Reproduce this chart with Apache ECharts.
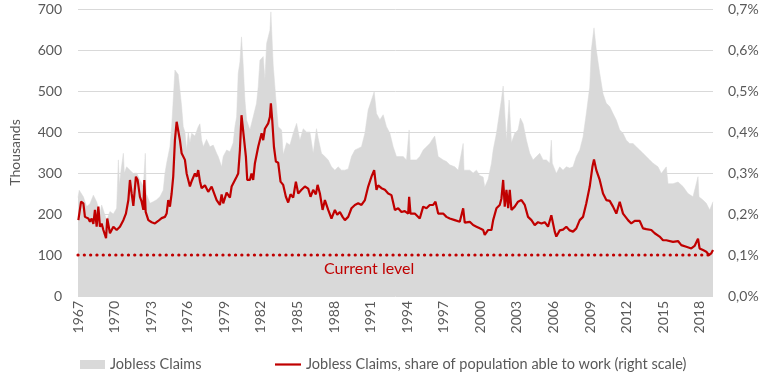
<!DOCTYPE html>
<html>
<head>
<meta charset="utf-8">
<script src="https://cdn.jsdelivr.net/npm/echarts@6/dist/echarts.min.js"></script>
<style>
html,body{margin:0;padding:0;background:#fff;}
#c{width:765px;height:383px;}
</style>
</head>
<body>
<div id="c"></div>
<script>
// ---- Data ----
const baseYear = 1967;
const tickLabelsStep = 3;
const claimYears = [1967.00,1967.10,1967.44,1967.71,1967.98,1968.26,1968.53,1968.80,1968.94,1969.35,1969.62,1969.90,1970.17,1970.31,1970.40,1970.50,1970.72,1970.80,1970.99,1971.26,1971.54,1971.81,1972.08,1972.36,1972.52,1972.60,1972.90,1973.17,1973.45,1973.72,1973.99,1974.13,1974.27,1974.54,1974.68,1974.81,1974.95,1975.09,1975.22,1975.36,1975.50,1975.63,1975.77,1975.91,1976.04,1976.18,1976.32,1976.59,1976.86,1977.00,1977.14,1977.28,1977.54,1977.82,1978.09,1978.37,1978.50,1978.78,1978.91,1979.19,1979.46,1979.73,1979.87,1980.01,1980.14,1980.28,1980.41,1980.55,1980.69,1980.83,1981.10,1981.37,1981.64,1981.78,1981.92,1982.19,1982.33,1982.47,1982.74,1982.82,1983.01,1983.23,1983.42,1983.70,1983.83,1984.11,1984.38,1984.65,1984.93,1985.20,1985.47,1985.74,1986.02,1986.29,1986.56,1986.70,1986.97,1987.25,1987.52,1987.79,1988.07,1988.34,1988.61,1988.89,1989.16,1989.43,1989.71,1989.98,1990.25,1990.53,1990.80,1991.07,1991.29,1991.48,1991.76,1992.03,1992.30,1992.58,1992.85,1993.12,1993.40,1993.67,1993.94,1994.16,1994.25,1994.76,1995.03,1995.31,1995.58,1995.85,1996.13,1996.26,1996.54,1996.95,1997.22,1997.49,1997.90,1998.18,1998.59,1998.66,1999.13,1999.41,1999.68,1999.95,2000.23,2000.36,2000.64,2000.91,2001.05,2001.32,2001.45,2001.73,2001.87,2002.14,2002.36,2002.55,2002.82,2003.09,2003.28,2003.50,2003.78,2004.05,2004.32,2004.60,2004.87,2005.14,2005.42,2005.69,2005.82,2005.90,2006.23,2006.51,2006.78,2007.05,2007.33,2007.60,2007.87,2008.15,2008.42,2008.69,2008.97,2009.10,2009.32,2009.51,2009.79,2010.06,2010.33,2010.61,2010.88,2011.15,2011.43,2011.70,2011.97,2012.25,2012.52,2012.79,2013.07,2013.34,2013.61,2013.89,2014.16,2014.57,2014.84,2015.25,2015.39,2015.80,2016.21,2016.62,2017.03,2017.44,2017.85,2017.93,2018.26,2018.53,2018.81,2019.08];
const claimValues = [240,258,242,218,225,246,230,201,222,185,206,200,214,332,270,300,348,300,315,307,299,300,283,267,348,250,226,230,235,242,258,299,324,364,413,478,551,555,540,502,462,413,400,356,400,374,397,390,413,420,380,364,382,364,368,348,340,315,340,356,352,374,413,437,543,571,632,563,478,429,405,437,470,510,575,584,527,616,648,693,563,480,413,405,345,374,368,397,421,380,408,400,400,348,408,385,348,340,332,315,307,315,307,307,310,340,356,360,364,397,454,478,498,445,430,442,413,397,364,340,340,340,332,405,332,332,340,356,364,372,385,390,340,332,328,320,315,307,372,307,307,300,307,294,290,266,285,324,356,397,400,480,512,380,478,374,397,405,434,421,380,348,332,340,348,332,332,324,380,324,299,315,307,315,312,315,340,356,388,445,510,600,654,600,543,493,470,462,445,429,405,397,380,372,372,364,356,348,340,332,324,315,299,315,274,274,278,267,250,242,291,242,234,226,210,230];
const shareYears = [1967.03,1967.25,1967.44,1967.57,1967.85,1967.98,1968.12,1968.26,1968.39,1968.53,1968.67,1968.80,1968.94,1969.08,1969.30,1969.40,1969.62,1969.90,1970.17,1970.44,1970.72,1970.93,1971.13,1971.26,1971.40,1971.54,1971.75,1971.89,1972.08,1972.22,1972.36,1972.44,1972.55,1972.77,1973.04,1973.31,1973.58,1973.86,1974.13,1974.27,1974.40,1974.54,1974.68,1974.81,1974.95,1975.09,1975.22,1975.36,1975.50,1975.77,1975.91,1976.18,1976.32,1976.59,1976.73,1976.86,1977.00,1977.14,1977.41,1977.68,1977.96,1978.09,1978.37,1978.64,1978.78,1978.91,1979.19,1979.46,1979.60,1979.73,1980.01,1980.14,1980.28,1980.41,1980.55,1980.77,1980.88,1981.10,1981.23,1981.37,1981.51,1981.78,1982.06,1982.19,1982.33,1982.60,1982.74,1982.82,1982.93,1983.07,1983.23,1983.42,1983.61,1983.83,1984.05,1984.24,1984.43,1984.65,1984.87,1985.06,1985.33,1985.61,1985.88,1986.07,1986.29,1986.51,1986.65,1986.84,1987.06,1987.25,1987.52,1987.79,1988.07,1988.26,1988.48,1988.70,1988.89,1989.16,1989.43,1989.71,1989.98,1990.25,1990.53,1990.80,1991.07,1991.29,1991.48,1991.62,1991.89,1992.17,1992.44,1992.71,1992.99,1993.26,1993.53,1993.80,1994.08,1994.16,1994.27,1994.62,1995.03,1995.31,1995.58,1995.85,1996.13,1996.32,1996.54,1996.95,1997.22,1997.49,1997.90,1998.31,1998.59,1998.72,1999.13,1999.41,1999.68,1999.95,2000.23,2000.36,2000.64,2000.91,2001.05,2001.32,2001.59,2001.73,2001.87,2002.00,2002.14,2002.28,2002.41,2002.55,2002.82,2003.09,2003.37,2003.64,2003.91,2004.19,2004.46,2004.73,2005.01,2005.28,2005.55,2005.82,2006.10,2006.23,2006.51,2006.78,2007.05,2007.33,2007.60,2007.87,2008.15,2008.42,2008.69,2008.97,2009.19,2009.32,2009.51,2009.79,2010.06,2010.33,2010.61,2010.88,2011.15,2011.43,2011.70,2012.11,2012.38,2012.66,2013.07,2013.34,2013.61,2014.02,2014.30,2014.70,2014.98,2015.25,2015.80,2016.21,2016.48,2016.89,2017.30,2017.57,2017.85,2017.98,2018.26,2018.53,2018.75,2018.94,2019.08];
const shareValues = [0.185,0.230,0.226,0.193,0.189,0.181,0.189,0.176,0.210,0.169,0.218,0.169,0.177,0.161,0.141,0.189,0.153,0.169,0.161,0.169,0.185,0.201,0.234,0.283,0.250,0.220,0.291,0.283,0.242,0.230,0.210,0.283,0.205,0.185,0.180,0.177,0.183,0.190,0.193,0.201,0.234,0.218,0.250,0.291,0.380,0.425,0.422,0.380,0.348,0.332,0.299,0.267,0.280,0.299,0.291,0.307,0.280,0.263,0.270,0.254,0.267,0.263,0.234,0.222,0.248,0.226,0.252,0.240,0.267,0.271,0.291,0.299,0.356,0.441,0.437,0.340,0.283,0.283,0.299,0.283,0.324,0.364,0.397,0.380,0.408,0.421,0.437,0.470,0.429,0.364,0.328,0.325,0.279,0.271,0.242,0.228,0.248,0.240,0.279,0.250,0.259,0.267,0.262,0.242,0.259,0.248,0.271,0.250,0.210,0.234,0.210,0.189,0.210,0.198,0.205,0.193,0.185,0.193,0.214,0.222,0.226,0.222,0.234,0.267,0.291,0.307,0.259,0.270,0.263,0.259,0.250,0.246,0.210,0.214,0.205,0.207,0.201,0.242,0.201,0.201,0.189,0.218,0.214,0.222,0.222,0.230,0.201,0.201,0.193,0.189,0.185,0.181,0.214,0.179,0.181,0.173,0.169,0.165,0.161,0.149,0.161,0.161,0.185,0.214,0.222,0.238,0.283,0.218,0.259,0.214,0.259,0.210,0.218,0.230,0.234,0.222,0.193,0.185,0.173,0.180,0.177,0.180,0.169,0.197,0.157,0.145,0.160,0.162,0.169,0.160,0.157,0.165,0.185,0.193,0.226,0.267,0.315,0.333,0.307,0.283,0.250,0.234,0.232,0.218,0.201,0.230,0.201,0.185,0.177,0.183,0.183,0.165,0.163,0.161,0.153,0.145,0.136,0.136,0.132,0.134,0.124,0.120,0.116,0.122,0.140,0.116,0.112,0.108,0.100,0.104,0.112];
const currentLevel = 0.1;
const currentLevelText = 'Current level';
const seriesNames = ['Jobless Claims', 'Jobless Claims, share of population able to work (right scale)'];
const leftAxisName = 'Thousands';

// ---- Build ----
const endYear = claimYears[claimYears.length - 1];
const claimData = claimYears.map((y, i) => [y - baseYear, claimValues[i]]);
const shareData = shareYears.map((y, i) => [y - baseYear, shareValues[i]]);
const levelData = [[0, currentLevel], [endYear - baseYear, currentLevel]];

const FONT = 'Lato';
const TXT = '#595959';
const chart = echarts.init(document.getElementById('c'), null, {renderer: 'canvas'});
chart.setOption({
  animation: false,
  textStyle: {fontFamily: FONT},
  grid: {left: 78, right: 52, top: 9, bottom: 87, containLabel: false},
  xAxis: {
    type: 'value', min: 0, max: endYear - baseYear, interval: tickLabelsStep,
    axisLine: {show: false}, axisTick: {show: false}, splitLine: {show: false},
    axisLabel: {rotate: 90, color: TXT, fontSize: 14, fontFamily: FONT, margin: 5,
      showMaxLabel: false, formatter: v => String(baseYear + v)}
  },
  yAxis: [{
    type: 'value', min: 0, max: 700, interval: 100,
    name: leftAxisName, nameLocation: 'middle', nameGap: 56, nameRotate: 90,
    nameTextStyle: {color: TXT, fontSize: 14, fontFamily: FONT},
    axisLine: {show: false}, axisTick: {show: false},
    axisLabel: {color: TXT, fontSize: 14, fontFamily: FONT, margin: 16},
    splitLine: {lineStyle: {color: '#d9d9d9', width: 1}}
  }, {
    type: 'value', min: 0, max: 0.7, interval: 0.1,
    axisLine: {show: false}, axisTick: {show: false}, splitLine: {show: false},
    axisLabel: {color: TXT, fontSize: 14, fontFamily: FONT, margin: 15,
      formatter: v => v.toFixed(1).replace('.', ',') + '%'}
  }],
  legend: [{
    left: 75, top: 352, itemWidth: 25, itemHeight: 9, itemGap: 10,
    textStyle: {color: TXT, fontSize: 14.5, fontFamily: FONT},
    data: [{name: seriesNames[0], icon: 'rect'}]
  }, {
    left: 270, top: 352, itemWidth: 26, itemHeight: 2.2,
    textStyle: {color: TXT, fontSize: 14.5, fontFamily: FONT},
    data: [{name: seriesNames[1], icon: 'rect'}]
  }],
  series: [{
    name: seriesNames[0], type: 'line', data: claimData, yAxisIndex: 0,
    showSymbol: false, symbol: 'none', color: '#d9d9d9',
    lineStyle: {width: 0.5, color: '#d9d9d9'},
    areaStyle: {color: '#d9d9d9', opacity: 1}, z: 1
  }, {
    name: 'level', type: 'line', data: levelData, yAxisIndex: 1,
    symbol: 'none', silent: true,
    lineStyle: {color: '#c00000', width: 3.2, type: [0.1, 6.2], cap: 'round'}, z: 2
  }, {
    name: seriesNames[1], type: 'line', data: shareData, yAxisIndex: 1,
    symbol: 'none', color: '#c00000',
    lineStyle: {color: '#c00000', width: 2.2}, z: 3
  }],
  graphic: [{
    type: 'text', left: 324, top: 261, z: 100,
    style: {text: currentLevelText, fill: '#c00000', font: '16px ' + FONT}
  }]
});
</script>
</body>
</html>
